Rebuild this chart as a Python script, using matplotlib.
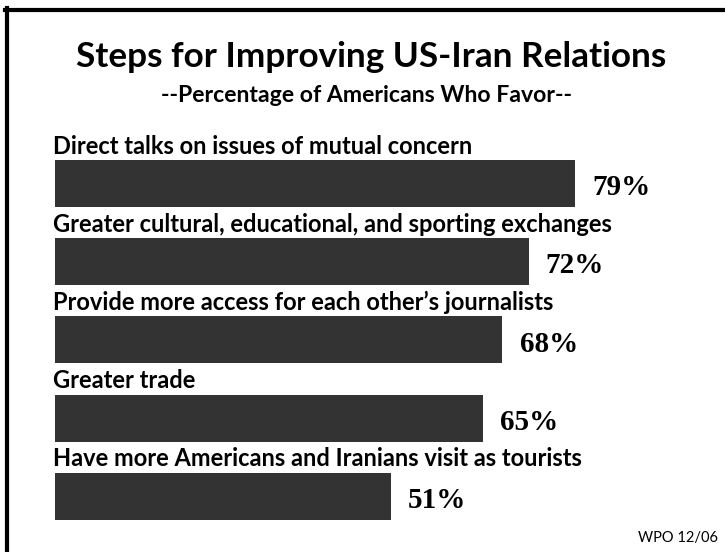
import matplotlib
matplotlib.use("Agg")
import matplotlib.pyplot as plt
from matplotlib.lines import Line2D

# Data
categories = [
    "Direct talks on issues of mutual concern",
    "Greater cultural, educational, and sporting exchanges",
    "Provide more access for each other\u2019s journalists",
    "Greater trade",
    "Have more Americans and Iranians visit as tourists",
]
values = [79, 72, 68, 65, 51]
value_labels = [f"{v}%" for v in values]

title = "Steps for Improving US-Iran Relations"
subtitle = "--Percentage of Americans Who Favor--"
source = "WPO 12/06"

sans = ["Lato", "DejaVu Sans"]
serif = ["Liberation Serif", "DejaVu Serif"]
bar_color = "#333333"

W, H = 725, 552
fig = plt.figure(figsize=(W / 100, H / 100), dpi=100)
fig.patch.set_facecolor("white")
renderer = fig.canvas.get_renderer()


def fit_width(t, target_px):
    # scale font size so the text spans roughly target_px
    w = t.get_window_extent(renderer=renderer).width
    t.set_fontsize(t.get_fontsize() * target_px / w)


# axes placed so that 0% sits at x=55px and 1% ~ 6.58px, rows 78.2px apart
x0_px, px_per_pct = 55, 6.58
row_px, first_px = 78.2, 183.5
y_top_px = first_px - 0.9 * row_px
y_bot_px = first_px + 4.6 * row_px
ax = fig.add_axes([x0_px / W, 1 - y_bot_px / H, (W - x0_px) / W, (y_bot_px - y_top_px) / H])
ax.set_xlim(0, (W - x0_px) / px_per_pct)
ax.set_ylim(4.6, -0.9)
ax.axis("off")

bar_h = 0.6
ypos = list(range(len(categories)))
ax.barh(ypos, values, height=bar_h, color=bar_color, align="center")

cat_texts = []
for i, (cat, v, lab) in enumerate(zip(categories, values, value_labels)):
    cat_texts.append(ax.text(-0.25, i - bar_h / 2 - 6.5 / row_px, cat, ha="left",
                             va="baseline", fontsize=14, fontweight="bold",
                             family=sans, color="black"))
    ax.text(v + 2.6, i + 0.15, lab, ha="left", va="baseline",
            fontsize=21, fontweight="bold", family=serif, color="black")

# size category labels from the first one (53..476 px in the reference)
fit_width(cat_texts[0], 423)
for t in cat_texts[1:]:
    t.set_fontsize(cat_texts[0].get_fontsize())

t_title = fig.text(371 / W, 1 - 67 / H, title, ha="center", va="baseline", fontsize=26,
                   fontweight="bold", family=sans)
fit_width(t_title, 590)
t_sub = fig.text(366 / W, 1 - 102 / H, subtitle, ha="center", va="baseline", fontsize=15,
                 fontweight="bold", family=sans)
fit_width(t_sub, 414)
fig.text(718 / W, 1 - 542 / H, source, ha="right", va="baseline", fontsize=10.5,
         family=sans)

# frame: top and left lines only
fig.add_artist(Line2D([5 / W, 1], [1 - 10 / H, 1 - 10 / H], color="black",
                      linewidth=3, transform=fig.transFigure))
fig.add_artist(Line2D([7 / W, 7 / W], [0, 1 - 8 / H], color="black",
                      linewidth=3, transform=fig.transFigure))

fig.savefig("out.png", dpi=100, facecolor="white")
